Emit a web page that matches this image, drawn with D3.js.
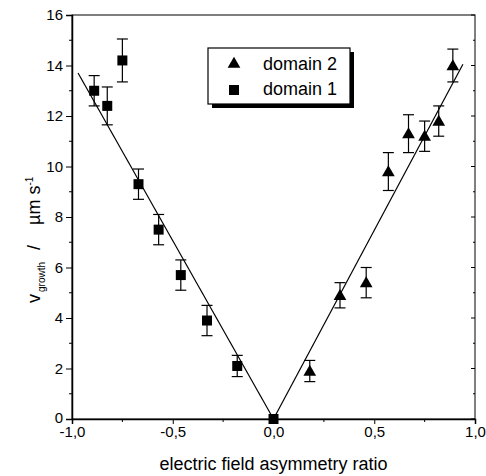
<!DOCTYPE html>
<html>
<head>
<meta charset="utf-8">
<script src="https://cdn.jsdelivr.net/npm/d3@7"></script>
<style>
  body { margin: 0; background: #fff; }
  svg text { font-family: "Liberation Sans", Arial, sans-serif; fill: #000; }
</style>
</head>
<body>
<div id="chart"></div>
<script>
// domain 1 (squares)
var d1x = [-0.89, -0.825, -0.75, -0.67, -0.57, -0.46, -0.33, -0.18, 0.0];
var d1y = [13.0, 12.4, 14.2, 9.3, 7.5, 5.7, 3.9, 2.1, 0.0];
var d1e = [0.6, 0.75, 0.85, 0.6, 0.6, 0.6, 0.6, 0.42, 0];
// domain 2 (triangles)
var d2x = [0.18, 0.33, 0.46, 0.57, 0.67, 0.75, 0.82, 0.89];
var d2y = [1.9, 4.9, 5.4, 9.8, 11.3, 11.2, 11.8, 14.0];
var d2e = [0.42, 0.5, 0.6, 0.75, 0.75, 0.6, 0.6, 0.65];
// linear fits
var fit1x = [-0.97, 0], fit1y = [13.7, 0];
var fit2x = [0, 0.94], fit2y = [0, 14.05];

var xTicks = [-1, -0.5, 0, 0.5, 1];
var xMinor = [-0.75, -0.25, 0.25, 0.75];
var yTicks = [0, 2, 4, 6, 8, 10, 12, 14, 16];
var yMinor = [1, 3, 5, 7, 9, 11, 13, 15];

var margin = { top: 15, right: 11, bottom: 57, left: 72 },
  W = 486, H = 476,
  width = W - margin.left - margin.right,
  height = H - margin.top - margin.bottom;

var svg = d3.select("#chart").append("svg")
  .attr("width", W).attr("height", H)
  .append("g")
  .attr("transform", "translate(" + margin.left + "," + margin.top + ")");

var x = d3.scaleLinear().domain([-1, 1]).range([0, width]);
var y = d3.scaleLinear().domain([0, 16]).range([height, 0]);

function fmt(v) { return d3.format(".1f")(v).replace(".", ",").replace("−", "-"); }

// frame
svg.append("rect").attr("width", width).attr("height", height)
  .style("fill", "none").style("stroke", "#000").style("stroke-width", 1);

// axes
var xAxis = svg.append("g").attr("transform", "translate(0," + height + ")")
  .call(d3.axisBottom(x).tickValues(xTicks).tickSize(5).tickFormat(fmt));
xAxis.append("g").selectAll("line").data(xMinor).enter().append("line")
  .attr("x1", function (d) { return x(d); }).attr("x2", function (d) { return x(d); })
  .attr("y1", 0).attr("y2", 3).style("stroke", "#000");

var yAxis = svg.append("g")
  .call(d3.axisLeft(y).tickValues(yTicks).tickSize(6).tickFormat(d3.format("d")));
yAxis.append("g").selectAll("line").data(yMinor).enter().append("line")
  .attr("y1", function (d) { return y(d); }).attr("y2", function (d) { return y(d); })
  .attr("x1", 0).attr("x2", -3).style("stroke", "#000");

[xAxis, yAxis].forEach(function (a) {
  a.select(".domain").style("stroke-width", 1.5);
  a.selectAll("text").style("font-size", "15px");
});
xAxis.selectAll(".tick text").attr("y", 7);
yAxis.selectAll(".tick text").attr("x", -9);
yAxis.selectAll(".tick text").filter(function (d) { return d === 0; }).attr("dy", "0.2em");

// right axis inner ticks
svg.append("g").selectAll("line").data(yTicks.concat(yMinor)).enter().append("line")
  .attr("x1", width).attr("x2", function (d) { return width - (d % 2 === 0 ? 4 : 2); })
  .attr("y1", function (d) { return y(d); }).attr("y2", function (d) { return y(d); })
  .style("stroke", "#000");

// fit lines
var line = d3.line().x(function (d) { return x(d[0]); }).y(function (d) { return y(d[1]); });
[[fit1x, fit1y], [fit2x, fit2y]].forEach(function (f) {
  svg.append("path").attr("d", line(d3.zip(f[0], f[1])))
    .style("fill", "none").style("stroke", "#000").style("stroke-width", 1.2);
});

// error bars
function errorBars(xs, ys, es) {
  var g = svg.append("g").style("stroke", "#000").style("stroke-width", 1.2);
  xs.forEach(function (xv, i) {
    if (!es[i]) return;
    var cx = x(xv), t = y(ys[i] + es[i]), b = y(ys[i] - es[i]);
    g.append("line").attr("x1", cx).attr("x2", cx).attr("y1", t).attr("y2", b);
    g.append("line").attr("x1", cx - 5.5).attr("x2", cx + 5.5).attr("y1", t).attr("y2", t);
    g.append("line").attr("x1", cx - 5.5).attr("x2", cx + 5.5).attr("y1", b).attr("y2", b);
  });
}
errorBars(d1x, d1y, d1e);
errorBars(d2x, d2y, d2e);

var sq = d3.symbol().type(d3.symbolSquare).size(100);
var tri = d3.symbol().type(d3.symbolTriangle).size(70);

svg.selectAll(".sq").data(d3.zip(d1x, d1y)).enter().append("path")
  .attr("class", "sq").attr("d", sq)
  .attr("transform", function (d) { return "translate(" + x(d[0]) + "," + y(d[1]) + ")"; })
  .style("fill", "#000");
svg.selectAll(".tri").data(d3.zip(d2x, d2y)).enter().append("path")
  .attr("class", "tri").attr("d", tri)
  .attr("transform", function (d) { return "translate(" + x(d[0]) + "," + (y(d[1]) + 1) + ")"; })
  .style("fill", "#000");

// legend
var lg = svg.append("g").attr("transform", "translate(" + (208 - margin.left) + "," + (48 - margin.top) + ")");
lg.append("rect").attr("x", 4).attr("y", 4).attr("width", 142).attr("height", 56).style("fill", "#000");
lg.append("rect").attr("width", 142).attr("height", 56)
  .style("fill", "#fff").style("stroke", "#000").style("stroke-width", 1.2);
lg.append("path").attr("d", tri).attr("transform", "translate(26,16)").style("fill", "#000");
lg.append("path").attr("d", sq).attr("transform", "translate(26,42)").style("fill", "#000");
lg.append("text").attr("x", 55).attr("y", 22).style("font-size", "18px").text("domain 2");
lg.append("text").attr("x", 55).attr("y", 47).style("font-size", "18px").text("domain 1");

// axis titles
svg.append("text").attr("x", width / 2).attr("y", height + 51)
  .attr("text-anchor", "middle").style("font-size", "18px")
  .text("electric field asymmetry ratio");

var yl = svg.append("text")
  .attr("transform", "translate(" + (40 - margin.left) + "," + (303 - margin.top) + ") rotate(-90)")
  .attr("text-anchor", "start").style("font-size", "18px");
yl.append("tspan").text("v");
yl.append("tspan").attr("dx", 2).attr("dy", 5).style("font-size", "10px").text("growth");
yl.append("tspan").attr("dx", 12).attr("dy", -5).text("/");
yl.append("tspan").attr("dx", 20).text("\u00b5m s");
yl.append("tspan").attr("dy", -7).style("font-size", "10px").text("-1");
</script>
</body>
</html>
